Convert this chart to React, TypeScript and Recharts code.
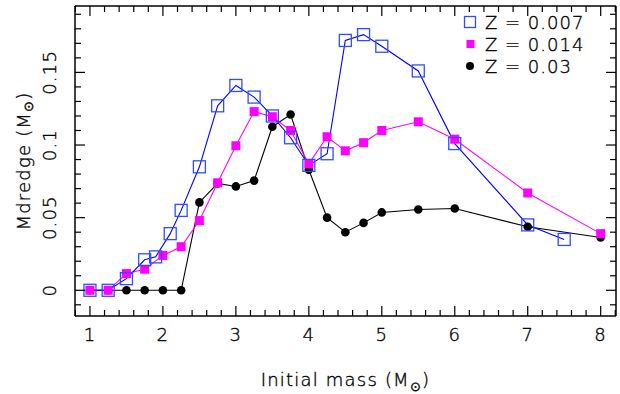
import React from 'react';
import { LineChart, Line, XAxis, YAxis, Legend } from 'recharts';

// Initial masses and dredged-up mass for each metallicity
const massZ007 = [1, 1.25, 1.5, 1.75, 1.9, 2.1, 2.25, 2.5, 2.75, 3, 3.25, 3.5, 3.75, 4, 4.25, 4.5, 4.75, 5, 5.5, 6, 7, 7.5];
const mdZ007 = [0, 0, 0.008, 0.021, 0.023, 0.039, 0.055, 0.085, 0.127, 0.141, 0.133, 0.12, 0.105, 0.086, 0.094, 0.172, 0.176, 0.168, 0.151, 0.101, 0.045, 0.035];

const massZ014 = [1, 1.25, 1.5, 1.75, 2, 2.25, 2.5, 2.75, 3, 3.25, 3.5, 3.75, 4, 4.25, 4.5, 4.75, 5, 5.5, 6, 7, 8];
const mdZ014 = [0, 0, 0.0115, 0.0145, 0.024, 0.03, 0.048, 0.074, 0.0995, 0.123, 0.1195, 0.11, 0.087, 0.1057, 0.096, 0.1016, 0.11, 0.116, 0.104, 0.067, 0.039];

const massZ03 = [1, 1.25, 1.5, 1.75, 2, 2.25, 2.5, 2.75, 3, 3.25, 3.5, 3.75, 4, 4.25, 4.5, 4.75, 5, 5.5, 6, 7, 8];
const mdZ03 = [0, 0, 0, 0, 0, 0, 0.0605, 0.0736, 0.0715, 0.0755, 0.1126, 0.121, 0.083, 0.05, 0.04, 0.0464, 0.0536, 0.0556, 0.0563, 0.0437, 0.0363];

const seriesNames = ['Z = 0.007', 'Z = 0.014', 'Z = 0.03'];

const xMajorTicks = [1, 2, 3, 4, 5, 6, 7, 8];
const yMajorTicks = [0, 0.05, 0.1, 0.15];
const xMinorStep = 0.2;
const yMinorStep = 0.01;
const xDomain: [number, number] = [0.795, 8.21];
const yDomain: [number, number] = [-0.0177, 0.1957];

const xTicks: number[] = [];
for (let i = 0; i * xMinorStep + 0.8 <= 8.2 + 1e-9; i++) xTicks.push(+(0.8 + i * xMinorStep).toFixed(2));
const yTicks: number[] = [];
for (let i = -1; i <= 19; i++) yTicks.push(+(i * yMinorStep).toFixed(2));

const toData = (ms: number[], vs: number[]) => ms.map((m, i) => ({ m, v: vs[i] }));
const dataZ007 = toData(massZ007, mdZ007);
const dataZ014 = toData(massZ014, mdZ014);
const dataZ03 = toData(massZ03, mdZ03);

const FONT = '"DejaVu Sans", "Open Sans", sans-serif';
const FW = 200;
const LS = 1.2;
const BLUE = '#0000ff';
const BLUE_MK = '#2f4dff';
const MAGENTA = '#ff00ff';

const isXMajor = (v: number) => xMajorTicks.some((t) => Math.abs(t - v) < 1e-6);
const isYMajor = (v: number) => yMajorTicks.some((t) => Math.abs(t - v) < 1e-6);

const textProps = {
  fontFamily: FONT,
  fontWeight: FW,
  fill: '#000',
  stroke: '#000',
  strokeWidth: 0.35,
  style: { letterSpacing: LS, whiteSpace: 'pre' as const },
};

const BottomTick = (props: any) => {
  const { x, y, payload } = props;
  const major = isXMajor(payload.value);
  return (
    <g>
      <line x1={x} x2={x} y1={y} y2={y - (major ? 10 : 6)} stroke="#000" strokeWidth={1.2} />
      {major && (
        <text x={x} y={y + 25} textAnchor="middle" fontSize={18} {...textProps}>
          {String(Math.round(payload.value))}
        </text>
      )}
    </g>
  );
};

const TopTick = (props: any) => {
  const { x, y, payload } = props;
  const major = isXMajor(payload.value);
  return <line x1={x} x2={x} y1={y} y2={y + (major ? 10 : 6)} stroke="#000" strokeWidth={1.2} />;
};

const LeftTick = (props: any) => {
  const { x, y, payload } = props;
  const major = isYMajor(payload.value);
  const label = String(Math.round(payload.value * 100) / 100);
  return (
    <g>
      <line x1={x} x2={x + (major ? 10 : 6)} y1={y} y2={y} stroke="#000" strokeWidth={1.2} />
      {major && (
        <text
          x={x - 25}
          y={y}
          transform={`rotate(-90 ${x - 25} ${y})`}
          textAnchor="middle"
          dominantBaseline="central"
          fontSize={18}
          {...textProps}
        >
          {label}
        </text>
      )}
    </g>
  );
};

const RightTick = (props: any) => {
  const { x, y, payload } = props;
  const major = isYMajor(payload.value);
  return <line x1={x} x2={x - (major ? 10 : 6)} y1={y} y2={y} stroke="#000" strokeWidth={1.2} />;
};

const XTitle = (props: any) => {
  const vb = props.viewBox || { x: 75, y: 316, width: 541, height: 78 };
  const cx = vb.x + vb.width / 2;
  return (
    <text x={cx} y={vb.y + 70} textAnchor="middle" fontSize={18} {...textProps}>
      Initial mass (M
      <tspan dy={5} fontSize={13}>⊙</tspan>
      <tspan dy={-5}>)</tspan>
    </text>
  );
};

const YTitle = (props: any) => {
  const vb = props.viewBox || { x: 0, y: 6, width: 75, height: 310 };
  const cy = vb.y + vb.height / 2;
  const cx = 23;
  return (
    <text
      x={cx}
      y={cy}
      transform={`rotate(-90 ${cx} ${cy})`}
      textAnchor="middle"
      dominantBaseline="central"
      fontSize={18}
      {...textProps}
    >
      Mdredge (M
      <tspan dy={5} fontSize={13}>⊙</tspan>
      <tspan dy={-5}>)</tspan>
    </text>
  );
};

const OpenSquare = (props: any) => {
  const { cx, cy, index } = props;
  if (cx == null || cy == null) return <g key={index} />;
  return <rect key={index} x={cx - 6} y={cy - 6} width={12} height={12} fill="none" stroke={BLUE_MK} strokeWidth={1.3} />;
};
const FilledSquare = (props: any) => {
  const { cx, cy, index } = props;
  if (cx == null || cy == null) return <g key={index} />;
  return <rect key={index} x={cx - 4.5} y={cy - 4.5} width={9} height={9} fill={MAGENTA} stroke="none" />;
};
const FilledCircle = (props: any) => {
  const { cx, cy, index } = props;
  if (cx == null || cy == null) return <g key={index} />;
  return <circle key={index} cx={cx} cy={cy} r={4.3} fill="#000" />;
};

const LegendBox = () => {
  const rows = [0, 1, 2];
  return (
    <svg width={160} height={72} style={{ display: 'block' }}>
      {rows.map((i) => {
        const cy = 14 + i * 22;
        return (
          <g key={i}>
            {i === 0 && <rect x={9.5} y={cy - 5.5} width={11} height={11} fill="none" stroke={BLUE_MK} strokeWidth={1.3} />}
            {i === 1 && <rect x={11.5} y={cy - 4} width={8} height={8} fill={MAGENTA} />}
            {i === 2 && <circle cx={15} cy={cy} r={4} fill="#000" />}
            <text x={30} y={cy} dominantBaseline="central" fontSize={18} {...textProps} style={{ letterSpacing: 1, whiteSpace: 'pre' }}>
              {seriesNames[i]}
            </text>
          </g>
        );
      })}
    </svg>
  );
};

export default function App() {
  return (
    <div style={{ position: 'absolute', left: 0, top: 0, width: 620, height: 394, background: '#fff' }}>
      <LineChart width={620} height={394} margin={{ top: 5, right: 3, bottom: 0, left: 0 }}>
        <XAxis
          xAxisId="b"
          type="number"
          dataKey="m"
          domain={xDomain}
          allowDataOverflow
          ticks={xTicks}
          interval={0}
          tickSize={0}
          tickMargin={0}
          tickLine={false}
          tick={<BottomTick />}
          height={78}
          axisLine={{ stroke: '#000', strokeWidth: 1.5 }}
          label={<XTitle />}
        />
        <XAxis
          xAxisId="t"
          orientation="top"
          type="number"
          dataKey="m"
          domain={xDomain}
          allowDataOverflow
          ticks={xTicks}
          interval={0}
          tickSize={0}
          tickMargin={0}
          tickLine={false}
          tick={<TopTick />}
          height={1}
          axisLine={{ stroke: '#000', strokeWidth: 1.5 }}
        />
        <YAxis
          yAxisId="l"
          type="number"
          domain={yDomain}
          allowDataOverflow
          ticks={yTicks}
          interval={0}
          tickSize={0}
          tickMargin={0}
          tickLine={false}
          tick={<LeftTick />}
          width={75}
          axisLine={{ stroke: '#000', strokeWidth: 1.5 }}
          label={<YTitle />}
        />
        <YAxis
          yAxisId="r"
          orientation="right"
          type="number"
          domain={yDomain}
          allowDataOverflow
          ticks={yTicks}
          interval={0}
          tickSize={0}
          tickMargin={0}
          tickLine={false}
          tick={<RightTick />}
          width={1}
          axisLine={{ stroke: '#000', strokeWidth: 1.5 }}
        />
        <Legend
          layout="vertical"
          align="center"
          verticalAlign="middle"
          wrapperStyle={{ position: 'absolute', left: 455, top: 8, width: 160, height: 72 }}
          content={() => <LegendBox />}
        />
        <Line
          xAxisId="b"
          yAxisId="l"
          data={dataZ03}
          dataKey="v"
          name={seriesNames[2]}
          stroke="#000"
          strokeWidth={1.1}
          dot={<FilledCircle />}
          activeDot={false}
          isAnimationActive={false}
        />
        <Line
          xAxisId="b"
          yAxisId="l"
          data={dataZ014}
          dataKey="v"
          name={seriesNames[1]}
          stroke={MAGENTA}
          strokeWidth={1.1}
          dot={<FilledSquare />}
          activeDot={false}
          isAnimationActive={false}
        />
        <Line
          xAxisId="b"
          yAxisId="l"
          data={dataZ007}
          dataKey="v"
          name={seriesNames[0]}
          stroke={BLUE}
          strokeWidth={1.1}
          dot={<OpenSquare />}
          activeDot={false}
          isAnimationActive={false}
        />
      </LineChart>
    </div>
  );
}
